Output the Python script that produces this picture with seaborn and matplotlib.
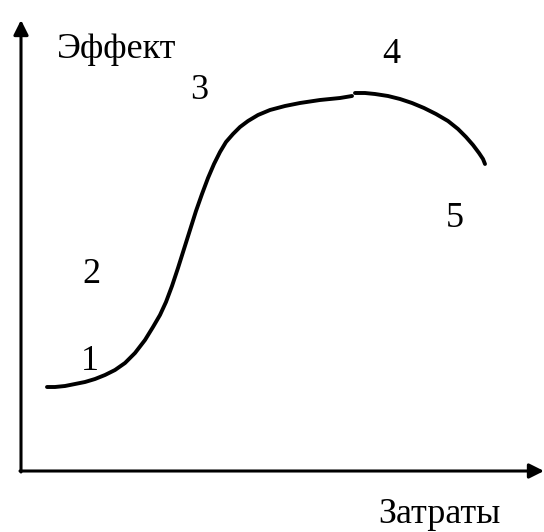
import matplotlib
matplotlib.use("Agg")
import matplotlib.pyplot as plt
import seaborn as sns
import pandas as pd

# curve: cost (x) vs effect (y), arbitrary units
rise_x = [26, 34, 44, 54, 64, 74, 84, 94, 104, 114, 124, 132, 139, 145, 151, 157, 163,
          169, 175, 181, 187, 193, 199, 205, 212, 219, 227, 237, 249, 264, 279, 299, 319, 331]
rise_y = [84, 84, 85, 87, 89, 92, 96, 101, 108, 118, 131, 144, 156, 169, 185, 203, 222,
          241, 260, 277, 293, 307, 319, 329, 337, 344, 350, 356, 361, 365, 368, 371, 373, 375]
fall_x = [334, 344, 354, 367, 379, 391, 403, 415, 427, 437, 445, 452, 458, 462, 464]
fall_y = [378, 378, 377, 375, 372, 368, 363, 357, 350, 342, 334, 326, 318, 312, 307]

stage_labels = ["1", "2", "3", "4", "5"]
stage_x = [69, 70, 178, 370, 434]
stage_y = [101, 188, 372, 408, 244]

x_title = "Затраты"
y_title = "Эффект"

sns.set_theme(style="white")
plt.rcParams["font.family"] = ["Liberation Serif", "DejaVu Serif"]
plt.rcParams["text.color"] = "black"

fig = plt.figure(figsize=(5.44, 5.32), dpi=100)
ax = fig.add_axes([0, 0, 1, 1])
ax.set_xlim(-21, 523)
ax.set_ylim(-61, 471)
ax.axis("off")

rise = pd.DataFrame({"x": rise_x, "y": rise_y})
fall = pd.DataFrame({"x": fall_x, "y": fall_y})
sns.lineplot(data=rise, x="x", y="y", color="black", linewidth=2.8, ax=ax, sort=False)
sns.lineplot(data=fall, x="x", y="y", color="black", linewidth=2.8, ax=ax, sort=False)

# axes arrows
arrow = dict(arrowstyle="-|>", color="black", lw=2.2, mutation_scale=22, shrinkA=0, shrinkB=0)
ax.annotate("", xy=(0, 451), xytext=(0, -1), arrowprops=arrow)
ax.annotate("", xy=(523, 0), xytext=(-1, 0), arrowprops=arrow)

for lab, x, y in zip(stage_labels, stage_x, stage_y):
    ax.text(x, y, lab, fontsize=26, ha="center", va="baseline", color="black")

ax.text(36, 413, y_title, fontsize=26, ha="left", va="baseline", color="black")
ax.text(418, -52, x_title, fontsize=26, ha="center", va="baseline", color="black")

fig.savefig("out.png", dpi=100, facecolor="white")
